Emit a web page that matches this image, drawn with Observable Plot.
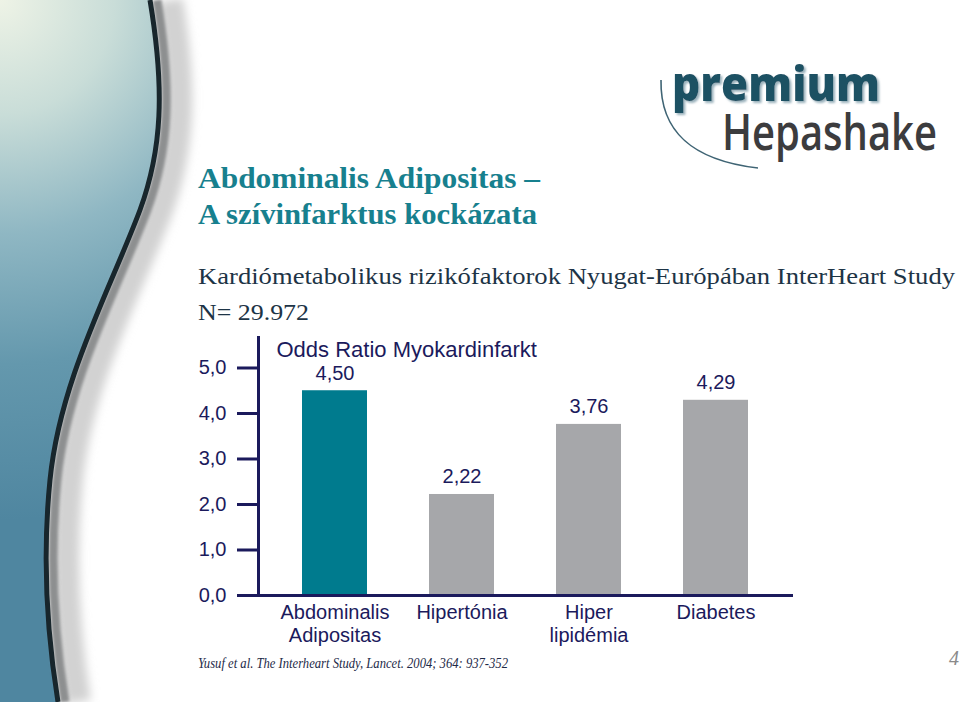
<!DOCTYPE html>
<html>
<head>
<meta charset="utf-8">
<script src="https://cdn.jsdelivr.net/npm/d3@7"></script>
<script src="https://cdn.jsdelivr.net/npm/@observablehq/plot@0.6"></script>
<style>
  html, body { margin: 0; padding: 0; background: #fff; }
  #page { position: relative; width: 960px; height: 702px; overflow: hidden; background: #fff; }
  #page > svg, #page > div { position: absolute; left: 0; top: 0; }
  #chart svg { display: block; }
</style>
</head>
<body>
<div id="page">
  <svg id="decor" width="960" height="702" viewBox="0 0 960 702">
    <defs>
      <radialGradient id="panelGrad" gradientUnits="userSpaceOnUse" cx="0" cy="0" r="520">
        <stop offset="0" stop-color="#eef3e6"/>
        <stop offset="0.22" stop-color="#c9ddd8"/>
        <stop offset="0.45" stop-color="#8fb7c3"/>
        <stop offset="0.7" stop-color="#6498ad"/>
        <stop offset="1" stop-color="#4f86a0"/>
      </radialGradient>
      <filter id="blur4" x="-50%" y="-10%" width="200%" height="120%"><feGaussianBlur stdDeviation="5"/></filter>
      <filter id="blur2" x="-50%" y="-10%" width="200%" height="120%"><feGaussianBlur stdDeviation="1.5"/></filter>
      <filter id="shadow" x="-10%" y="-20%" width="130%" height="150%">
        <feDropShadow dx="2" dy="2" stdDeviation="0.8" flood-color="#8fa9b4" flood-opacity="0.9"/>
      </filter>
    </defs>
    <path d="M150,0 C165,90 162,150 140,210 C110,290 60,380 50,480 C42,560 48,640 58,702 L0,702 L0,0 Z" fill="url(#panelGrad)"/>
    <g transform="translate(20,0)" filter="url(#blur4)">
      <path d="M150,0 C165,90 162,150 140,210 C110,290 60,380 50,480 C42,560 48,640 58,702" fill="none" stroke="#d2d2d2" stroke-width="26"/>
    </g>
    <g transform="translate(7,0)" filter="url(#blur2)">
      <path d="M150,0 C165,90 162,150 140,210 C110,290 60,380 50,480 C42,560 48,640 58,702" fill="none" stroke="#8d8f90" stroke-width="9"/>
    </g>
    <path d="M150,0 C165,90 162,150 140,210 C110,290 60,380 50,480 C42,560 48,640 58,702" fill="none" stroke="#18262c" stroke-width="5"/>
    <!-- logo arc -->
    <path d="M661,80 C660,130 690,160 758,168" fill="none" stroke="#3f6474" stroke-width="1.6"/>
  </svg>

  <svg id="texts" width="960" height="702" viewBox="0 0 960 702"
       style="font-family:'Liberation Serif','Times New Roman',serif;">
    <text x="672" y="101" font-family="'Open Sans',sans-serif" font-weight="800" font-size="47"
          fill="#1f5164" textLength="208" lengthAdjust="spacingAndGlyphs" filter="url(#shadow)">premium</text>
    <text id="hepa" x="0" y="0" font-family="'Open Sans',sans-serif" font-weight="600" font-size="51"
          fill="#3c3c3e" data-x="722" data-y="150" data-w="215">Hepashake</text>

    <text x="198" y="188" font-weight="bold" font-size="29" fill="#17808e"
          textLength="342" lengthAdjust="spacingAndGlyphs">Abdominalis Adipositas –</text>
    <text x="198" y="224" font-weight="bold" font-size="29" fill="#17808e"
          textLength="339" lengthAdjust="spacingAndGlyphs">A szívinfarktus kockázata</text>

    <text x="198" y="284" font-size="23" fill="#1d3446"
          textLength="757" lengthAdjust="spacingAndGlyphs">Kardiómetabolikus rizikófaktorok Nyugat-Európában InterHeart Study</text>
    <text x="198" y="320" font-size="23" fill="#1d3446"
          textLength="111" lengthAdjust="spacingAndGlyphs">N= 29.972</text>

    <text x="198" y="668" font-style="italic" font-size="14.5" fill="#1d2a48"
          textLength="310" lengthAdjust="spacingAndGlyphs">Yusuf et al. The Interheart Study, Lancet. 2004; 364: 937-352</text>
    <text x="949" y="665" font-style="italic" font-size="20" fill="#8a8a8a">4</text>
  </svg>

  <div id="chart"></div>
</div>

<script>
// fit the logo word horizontally by scaling
(function () {
  const t = document.getElementById("hepa");
  const w = t.getComputedTextLength() || 1;
  const s = (+t.dataset.w) / w;
  t.setAttribute("transform", `translate(${t.dataset.x},${t.dataset.y}) scale(${s},1)`);
})();

// ---- data ----
const categories = ["Abdominalis\nAdipositas", "Hipertónia", "Hiper\nlipidémia", "Diabetes"];
const values = [4.50, 2.22, 3.76, 4.29];
const valueLabels = ["4,50", "2,22", "3,76", "4,29"];
const highlighted = ["Abdominalis\nAdipositas"];
const yTicks = [0, 1, 2, 3, 4, 5];
const yTickLabels = ["0,0", "1,0", "2,0", "3,0", "4,0", "5,0"];
const chartTitle = "Odds Ratio Myokardinfarkt";

// ---- styles ----
const navy = "#1b1a5c";
const teal = "#007b8e";
const gray = "#a6a7aa";

const table = categories.map((c, i) => ({category: c, value: values[i], label: valueLabels[i]}));

const chart = Plot.plot({
  width: 960,
  height: 702,
  marginLeft: 258,
  marginRight: 167,
  marginTop: 337,
  marginBottom: 107,
  style: {background: "transparent", fontFamily: "'Liberation Sans', Arial, sans-serif", color: navy, overflow: "visible"},
  x: {domain: categories, paddingInner: 0.488, paddingOuter: 0.346, axis: null},
  y: {domain: [0, 5.67], axis: null},
  color: {type: "identity"},
  marks: [
    Plot.barY(table, {x: "category", y: "value", fill: d => highlighted.includes(d.category) ? teal : gray}),
    Plot.text(table, {x: "category", y: "value", text: "label", lineAnchor: "bottom", dy: -11, fontSize: 20, fill: navy}),
    Plot.axisY({ticks: yTicks, tickFormat: d => yTickLabels[yTicks.indexOf(d)], tickSize: 21, tickPadding: 11,
                strokeWidth: 3, fontSize: 20, color: navy, label: null}),
    Plot.axisX({tickSize: 0, tickPadding: 7, fontSize: 20, lineHeight: 1.15, color: navy, label: null}),
    Plot.frame({anchor: "left", stroke: navy, strokeWidth: 3}),
    Plot.ruleY([0], {stroke: navy, strokeWidth: 3}),
    Plot.text([chartTitle], {frameAnchor: "top-left", dx: 18, dy: 4, lineAnchor: "top", textAnchor: "start", fontSize: 22, fill: navy})
  ]
});
document.getElementById("chart").appendChild(chart);
</script>
</body>
</html>
